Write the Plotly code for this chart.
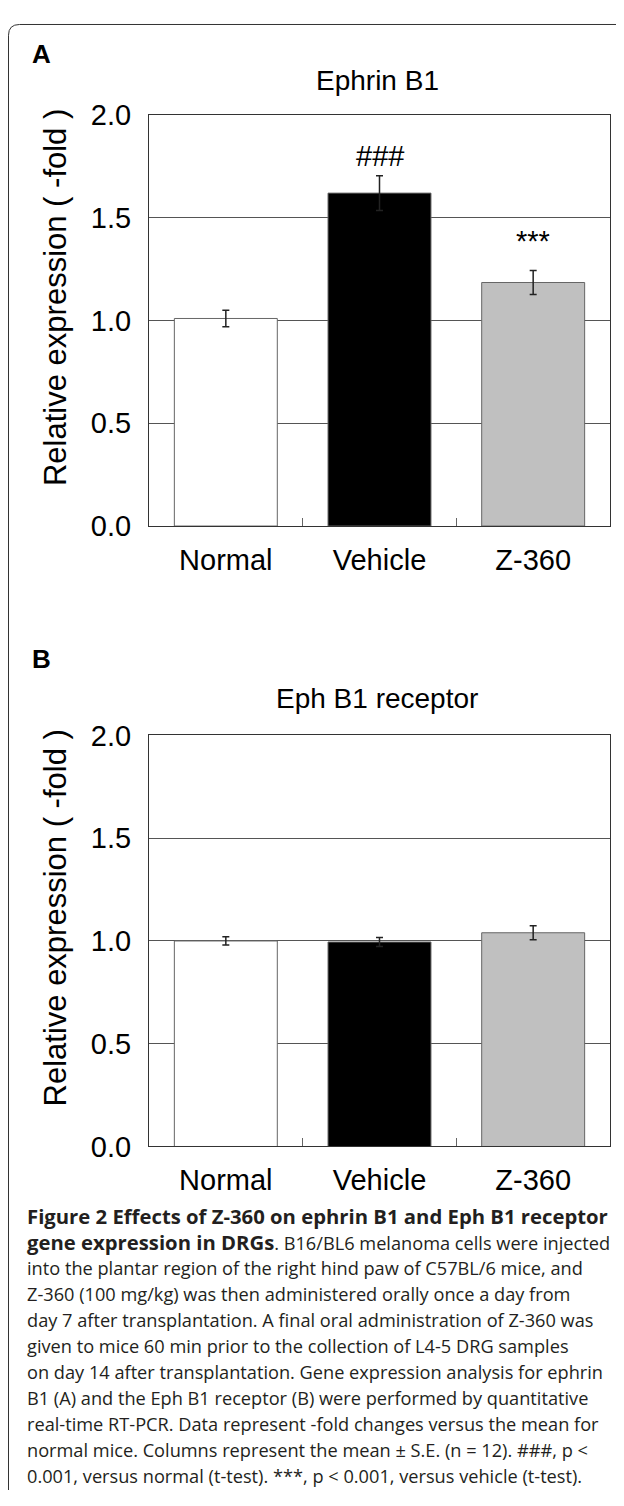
import plotly.graph_objects as go

# ---------------- data ----------------
categories = ["Normal", "Vehicle", "Z-360"]
ephrin_mean = [1.01, 1.62, 1.185]
ephrin_se = [0.04, 0.085, 0.058]
ephb1_mean = [1.00, 0.995, 1.04]
ephb1_se = [0.02, 0.022, 0.034]
bar_colors = ["#ffffff", "#000000", "#c0c0c0"]
y_ticks = [0.0, 0.5, 1.0, 1.5, 2.0]
y_tick_labels = ["0.0", "0.5", "1.0", "1.5", "2.0"]
sig_ephrin = ["", "###", "***"]
sig_ephrin_y = [None, 1.80, 1.385]
panel_titles = ["Ephrin B1", "Eph B1 receptor"]
panel_letters = ["A", "B"]
y_title = "Relative expression ( -fold )"
B = '<b><span style="font-size:20.3px">%s</span></b>'
caption_lines = [
    B % "Figure 2 Effects of Z-360 on ephrin B1 and Eph B1 receptor",
    B % "gene expression in DRGs" + ". B16/BL6 melanoma cells were injected",
    "into the plantar region of the right hind paw of C57BL/6 mice, and",
    "Z-360 (100 mg/kg) was then administered orally once a day from",
    "day 7 after transplantation. A final oral administration of Z-360 was",
    "given to mice 60 min prior to the collection of L4-5 DRG samples",
    "on day 14 after transplantation. Gene expression analysis for ephrin",
    "B1 (A) and the Eph B1 receptor (B) were performed by quantitative",
    "real-time RT-PCR. Data represent -fold changes versus the mean for",
    "normal mice. Columns represent the mean &plusmn; S.E. (n = 12). ###, p &lt;",
    "0.001, versus normal (t-test). ***, p &lt; 0.001, versus vehicle (t-test).",
]

# ---------------- layout helpers ----------------
# the page body has an 8px default margin, so the figure starts at (8, 8)
OFF = 8
W, H = 624 - OFF, 1506 - OFF
def px_x(x):
    return (x - OFF) / W
def px_y(y):
    return 1 - (y - OFF) / H

FONT = "Liberation Sans, Arial, Helvetica, sans-serif"
CAP_FONT = "Open Sans, Noto Sans, sans-serif"

plot_left, plot_right = 149, 610
panels = [(101, 521), (735, 1155)]  # top, bottom pixel rows of each plot area

fig = go.Figure()

for i, (means, ses) in enumerate([(ephrin_mean, ephrin_se), (ephb1_mean, ephb1_se)]):
    suffix = "" if i == 0 else "2"
    fig.add_trace(go.Bar(
        x=categories, y=means,
        marker=dict(color=bar_colors, line=dict(color="#666666", width=1)),
        width=0.67,
        error_y=dict(type="data", array=ses, visible=True,
                     color="#222222", thickness=1.5, width=3.5),
        xaxis="x" + suffix, yaxis="y" + suffix,
        showlegend=False, hoverinfo="x+y",
    ))

axis_common_x = dict(
    type="category", showline=True, mirror=True, linecolor="#333333", linewidth=1,
    ticks="inside", tickson="boundaries", ticklen=8, tickcolor="#666666",
    showgrid=False, zeroline=False,
    tickfont=dict(family=FONT, size=29, color="#000000"),
    ticklabelstandoff=8, range=[-0.5, 2.5],
)
axis_common_y = dict(
    range=[0, 2], tickvals=y_ticks, ticktext=y_tick_labels,
    showline=True, mirror=True, linecolor="#333333", linewidth=1,
    showgrid=True, gridcolor="#555555", gridwidth=1, zeroline=False,
    ticks="", tickfont=dict(family=FONT, size=29, color="#000000"),
    ticklabelstandoff=11,
)

layout = dict(
    width=W, height=H, margin=dict(l=0, r=0, t=0, b=0),
    paper_bgcolor="#ffffff", plot_bgcolor="#ffffff",
    bargap=0.33,
)
for i, (top, bottom) in enumerate(panels):
    suffix = "" if i == 0 else "2"
    layout["xaxis" + suffix] = dict(axis_common_x,
                                    domain=[px_x(plot_left), px_x(plot_right)],
                                    anchor="y" + suffix)
    layout["yaxis" + suffix] = dict(axis_common_y,
                                    domain=[px_y(bottom), px_y(top)],
                                    anchor="x" + suffix)
fig.update_layout(**layout)

annotations = []
letter_y = [39, 657]
title_y = [66, 697]
ytitle_y = [288, 922]
for i in range(2):
    annotations.append(dict(text="<b>%s</b>" % panel_letters[i], xref="paper", yref="paper",
                            x=px_x(41), y=px_y(letter_y[i]), xanchor="center", yanchor="middle",
                            showarrow=False, font=dict(family=FONT, size=26, color="#000000")))
    annotations.append(dict(text=panel_titles[i], xref="paper", yref="paper",
                            x=px_x(377), y=px_y(title_y[i]), xanchor="center", yanchor="middle",
                            showarrow=False, font=dict(family=FONT, size=28, color="#000000")))
    annotations.append(dict(text=y_title, xref="paper", yref="paper", textangle=-90,
                            x=px_x(55), y=px_y(ytitle_y[i]), xanchor="center", yanchor="middle",
                            showarrow=False, font=dict(family=FONT, size=31, color="#000000")))

for cat, mark, yv in zip(categories, sig_ephrin, sig_ephrin_y):
    if mark:
        annotations.append(dict(text=mark, xref="x", yref="y", x=cat, y=yv,
                                xanchor="center", yanchor="middle", showarrow=False,
                                font=dict(family=FONT, size=29, color="#000000")))

cap_top, cap_step = 1226, 26.6
for k, line in enumerate(caption_lines):
    annotations.append(dict(text=line, xref="paper", yref="paper",
                            x=px_x(25), y=px_y(cap_top + k * cap_step),
                            xanchor="left", yanchor="middle", showarrow=False,
                            font=dict(family=CAP_FONT, size=18.2, color="#231f20")))
fig.update_layout(annotations=annotations)

# outer frame with rounded top-left corner
x0, y0, r = 8.5, 8.5, 11
path = "M %f,%f L %f,%f Q %f,%f %f,%f L %f,%f" % (
    px_x(x0), px_y(1506), px_x(x0), px_y(y0 + r),
    px_x(x0), px_y(y0), px_x(x0 + r), px_y(y0),
    px_x(624), px_y(y0))
fig.add_shape(type="path", path=path, xref="paper", yref="paper",
              line=dict(color="#333333", width=1))

fig.write_html("out.html")
